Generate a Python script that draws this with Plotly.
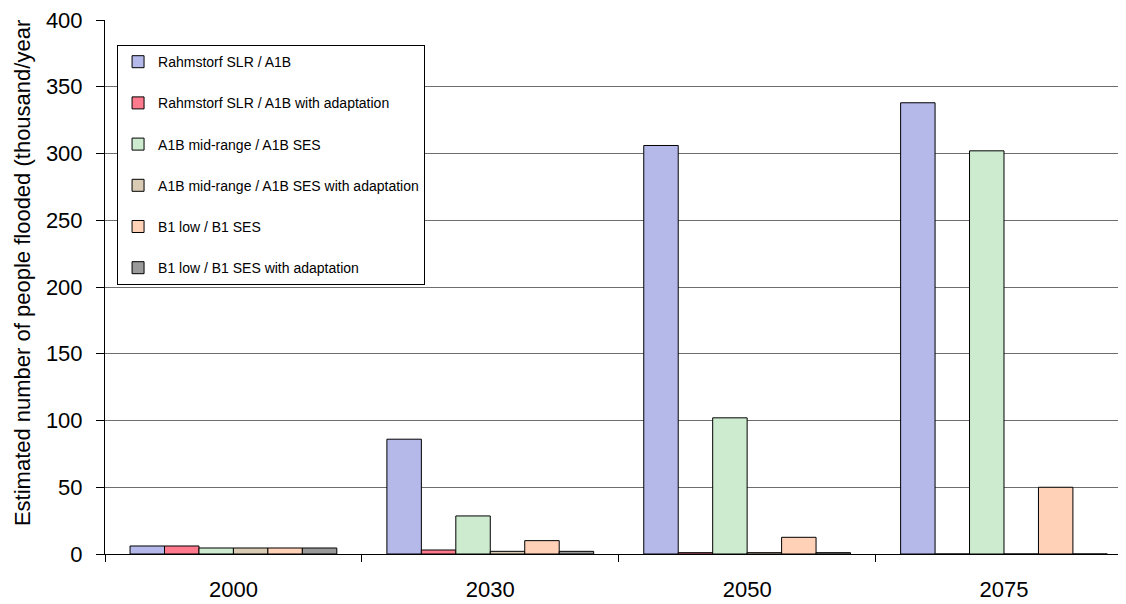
import plotly.graph_objects as go

years = ["2000", "2030", "2050", "2075"]

series_names = [
    "Rahmstorf SLR / A1B",
    "Rahmstorf SLR / A1B with adaptation",
    "A1B mid-range / A1B SES",
    "A1B mid-range / A1B SES with adaptation",
    "B1 low / B1 SES",
    "B1 low / B1 SES with adaptation",
]

rahmstorf = [6, 86, 306, 338]
rahmstorf_adapt = [6, 3, 1, 0]
a1b_mid = [4.5, 28.5, 102, 302]
a1b_mid_adapt = [4.5, 2, 1, 0]
b1_low = [4.5, 10, 12.5, 50]
b1_low_adapt = [4.5, 2, 1, 0]

series_values = [rahmstorf, rahmstorf_adapt, a1b_mid, a1b_mid_adapt, b1_low, b1_low_adapt]
colors = ["#b4b9ea", "#ff7a8c", "#cdeccf", "#d9cbb4", "#ffd2b8", "#9a9a9a"]

fig = go.Figure()
for i, (name, vals, col) in enumerate(zip(series_names, series_values, colors)):
    fig.add_trace(go.Bar(
        x=years,
        y=vals,
        name=name,
        legendgroup=f"g{i}",
        marker=dict(color=col, line=dict(color="#000000", width=1)),
    ))

font_family = "Liberation Sans, Arial, sans-serif"

# the page body adds an 8px offset; figure size and margins compensate for it
fig.update_layout(
    width=1118,
    height=596,
    barmode="group",
    bargap=0.195,
    bargroupgap=0,
    plot_bgcolor="white",
    paper_bgcolor="white",
    font=dict(family=font_family, color="#000000", size=22),
    margin=dict(l=97, r=0, t=12, b=50),
    legend=dict(
        x=0.0118,
        y=0.953,
        xanchor="left",
        yanchor="top",
        bgcolor="white",
        bordercolor="#000000",
        borderwidth=1,
        font=dict(size=14, family=font_family),
        tracegroupgap=20,
        itemwidth=30,
    ),
    xaxis=dict(
        range=[-0.5, 3.475],
        automargin=False,
        showline=True,
        linecolor="#000000",
        linewidth=1,
        ticks="outside",
        tickson="boundaries",
        ticklen=7,
        tickcolor="#000000",
        tickfont=dict(size=22),
        ticklabelstandoff=16,
        ticklabeloverflow="allow",
        showgrid=False,
    ),
    yaxis=dict(
        range=[0, 400],
        dtick=50,
        automargin=False,
        showline=True,
        linecolor="#000000",
        linewidth=1,
        ticks="outside",
        ticklen=8,
        tickcolor="#000000",
        tickfont=dict(size=22),
        ticklabelstandoff=9,
        ticklabeloverflow="allow",
        showgrid=True,
        gridcolor="#6e6e6e",
        gridwidth=1,
        zeroline=False,
    ),
)

# y-axis title placed like the original (top of the text runs off the page)
fig.add_annotation(
    text="Estimated number of people flooded (thousand/year",
    textangle=-90,
    xref="paper", yref="paper",
    x=-0.0813, y=0.526,
    xanchor="center", yanchor="middle",
    showarrow=False,
    font=dict(size=22, family=font_family, color="#000000"),
)

fig.write_html("out.html")
